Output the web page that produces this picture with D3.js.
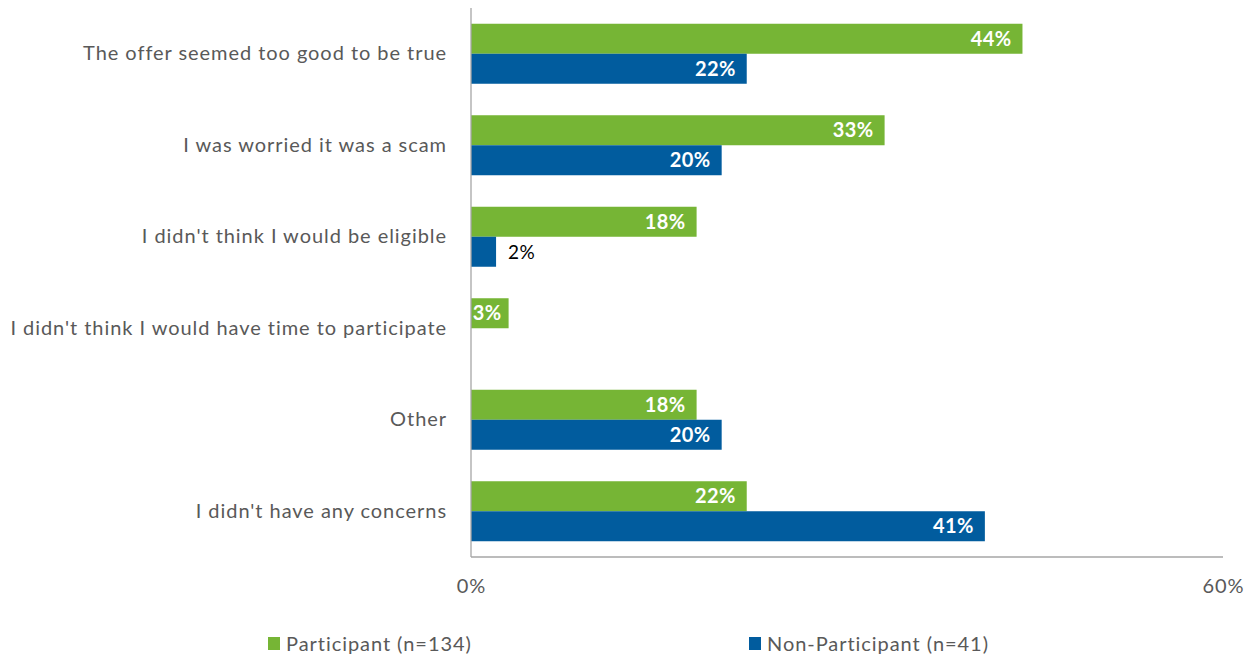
<!DOCTYPE html>
<html>
<head>
<meta charset="utf-8">
<script src="https://cdn.jsdelivr.net/npm/d3@7"></script>
<style>
  html, body { margin: 0; padding: 0; background: #fff; }
  svg { display: block; font-family: Lato, "Open Sans", sans-serif; }
</style>
</head>
<body>
<svg id="chart" width="1255" height="654"></svg>
<script>
// Reasons for hesitation, by respondent group
const categories = [
  "The offer seemed too good to be true",
  "I was worried it was a scam",
  "I didn't think I would be eligible",
  "I didn't think I would have time to participate",
  "Other",
  "I didn't have any concerns"
];
const participantValues = [44, 33, 18, 3, 18, 22];
const nonParticipantValues = [22, 20, 2, null, 20, 41];
const seriesNames = ["Participant (n=134)", "Non-Participant (n=41)"];
const xTicks = [0, 60];

const colors = ["#76B535", "#015C9E"];
const textGrey = "#595959";
const labelSize = 20;
const labelSpacing = "0.95px";

const svg = d3.select("#chart");

const x = d3.scaleLinear().domain([0, 60]).range([471, 1223]);
const y = d3.scaleBand().domain(categories).range([8, 557])
  .paddingInner(31.5 / 91.5).paddingOuter(31.5 / 91.5 / 2);
const ySub = d3.scaleBand().domain([0, 1]).range([0, y.bandwidth()]);

const series = [participantValues, nonParticipantValues];

// Bars with value labels
series.forEach((vals, si) => {
  const g = svg.append("g");
  categories.forEach((c, i) => {
    const v = vals[i];
    if (v == null) return;
    const y0 = y(c) + ySub(si);
    const h = ySub.bandwidth();
    const w = x(v) - x(0);
    g.append("rect")
      .attr("x", x(0)).attr("y", y0)
      .attr("width", w).attr("height", h)
      .attr("fill", colors[si]);
    const inside = w > 34;
    // narrow bars keep their label tucked closer to the bar end
    const pad = w < 60 ? 7 : 11;
    g.append("text")
      .attr("x", inside ? x(v) - pad : x(v) + 12)
      .attr("y", y0 + h / 2)
      .attr("dy", "0.36em")
      .attr("text-anchor", inside ? "end" : "start")
      .attr("font-size", inside ? 20 : 19)
      .attr("letter-spacing", "0.4px")
      .attr("font-weight", inside ? 700 : 400)
      .attr("fill", inside ? "#fff" : "#000")
      .text(v + "%");
  });
});

// Category labels
const yAxis = d3.axisLeft(y).tickSize(0).tickPadding(24);
const yg = svg.append("g").attr("transform", `translate(${x(0)},0)`).call(yAxis);
yg.select(".domain").remove();
yg.selectAll("text").attr("font-size", labelSize).attr("fill", textGrey)
  .attr("letter-spacing", labelSpacing)
  .attr("font-family", "Lato, 'Open Sans', sans-serif");

// Axis lines
svg.append("line").attr("x1", x(0)).attr("x2", x(0)).attr("y1", 8).attr("y2", 557)
  .attr("stroke", "#A6A6A6").attr("stroke-width", 1.3);
svg.append("line").attr("x1", x(0)).attr("x2", x(60)).attr("y1", 557).attr("y2", 557)
  .attr("stroke", "#A6A6A6").attr("stroke-width", 1.3);

// Value axis ticks
const xAxis = d3.axisBottom(x).tickValues(xTicks).tickFormat(d => d + "%").tickSize(0).tickPadding(22);
const xg = svg.append("g").attr("transform", "translate(0,557)").call(xAxis);
xg.select(".domain").remove();
xg.selectAll("text").attr("font-size", labelSize).attr("fill", textGrey)
  .attr("letter-spacing", labelSpacing)
  .attr("font-family", "Lato, 'Open Sans', sans-serif");

// Legend
const legendX = [268, 749];
seriesNames.forEach((name, i) => {
  svg.append("rect").attr("x", legendX[i]).attr("y", 637)
    .attr("width", 12).attr("height", 13).attr("fill", colors[i]);
  svg.append("text").attr("x", legendX[i] + 18).attr("y", 643.5).attr("dy", "0.36em")
    .attr("font-size", labelSize).attr("letter-spacing", labelSpacing)
    .attr("fill", textGrey).text(name);
});
</script>
</body>
</html>
